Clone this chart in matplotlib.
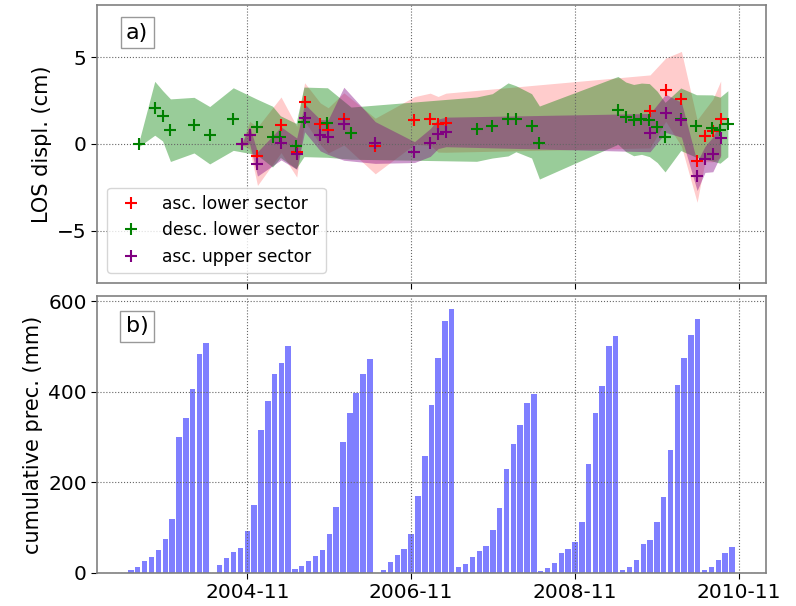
import matplotlib
matplotlib.use("Agg")
import matplotlib.pyplot as plt
import matplotlib.dates as mdates
import pandas as pd

# ascending track dates (shared by both ascending series)
asc_dates = [
    "2004-10-07", "2004-11-11", "2004-12-16", "2005-03-31", "2005-06-09",
    "2005-07-14", "2005-09-22", "2005-10-27", "2006-01-05", "2006-05-25",
    "2006-11-16", "2007-01-25", "2007-03-01", "2007-04-05", "2009-10-01",
    "2009-12-10", "2010-02-18", "2010-04-29", "2010-06-03", "2010-07-08",
    "2010-08-12",
]
asc_low = [0.0, 0.5, -0.71, 1.1, -0.45, 2.42, 1.16, 0.78, 1.44, -0.12, 1.35,
           1.42, 1.13, 1.22, 1.87, 3.12, 2.59, -0.99, 0.48, 0.77, 1.42]
asc_low_std = [0.05, 0.8, 1.68, 1.6, 1.46, 1.1, 1.2, 1.3, 1.5, 1.6, 1.37,
               1.5, 1.6, 1.7, 2.1, 1.82, 2.73, 2.37, 1.5, 1.8, 2.2]
asc_up = [-0.02, 0.5, -1.15, 0.03, -0.56, 1.5, 0.5, 0.39, 1.16, 0.08, -0.47,
          0.08, 0.58, 0.69, 0.65, 1.76, 1.39, -1.86, -0.89, -0.6, 0.35]
asc_up_std = [0.05, 0.5, 0.7, 0.95, 0.9, 0.8, 0.9, 1.0, 2.1, 1.2, 0.6,
              0.8, 0.85, 0.85, 1.1, 1.1, 1.0, 0.82, 0.75, 1.0, 1.0]

# descending track
desc_dates = [
    "2003-07-07", "2003-09-15", "2003-10-20", "2003-11-24", "2004-03-08",
    "2004-05-17", "2004-08-30", "2004-12-13", "2005-02-21", "2005-03-28",
    "2005-06-06", "2005-07-11", "2005-10-24", "2006-02-06", "2007-08-20",
    "2007-10-29", "2008-01-07", "2008-02-11", "2008-04-21", "2008-05-26",
    "2009-05-11", "2009-06-15", "2009-07-20", "2009-08-24", "2009-09-28",
    "2009-11-02", "2009-12-07", "2010-02-15", "2010-04-26", "2010-07-05",
    "2010-08-09", "2010-09-13",
]
desc_low = [0.0, 2.05, 1.62, 0.79, 1.08, 0.5, 1.43, 0.98, 0.42, 0.42, -0.12,
            1.27, 1.23, 0.62, 0.85, 1.04, 1.41, 1.45, 1.04, 0.08, 1.93, 1.56,
            1.37, 1.45, 1.37, 0.98, 0.39, 1.42, 1.03, 0.92, 0.79, 1.16]
desc_low_std = [0.15, 1.55, 1.45, 1.8, 1.6, 1.65, 1.8, 1.6, 1.75, 1.2, 1.3,
                2.0, 2.0, 1.5, 1.85, 1.85, 2.1, 1.9, 1.85, 2.1, 1.95, 2.0,
                2.05, 2.05, 2.1, 2.05, 2.0, 1.8, 1.8, 1.9, 1.9, 1.9]

# monthly cumulative precipitation (hydrological year Jun-May)
prec_months = pd.date_range("2003-06-01", "2010-10-01", freq="MS")
prec_mm = [
    7, 13, 26, 36, 51, 76, 119, 299, 343, 405, 484, 507,
    0, 17, 32, 46, 56, 93, 150, 315, 380, 440, 463, 501,
    9, 15, 26, 37, 51, 85, 145, 289, 352, 398, 440, 472,
    0, 7, 24, 39, 54, 87, 170, 259, 371, 474, 557, 582,
    13, 20, 36, 49, 59, 95, 143, 230, 284, 326, 374, 395,
    5, 12, 23, 43, 54, 68, 113, 241, 354, 413, 501, 522,
    7, 14, 28, 63, 73, 113, 167, 272, 414, 475, 525, 560,
    7, 13, 29, 43, 57,
]

tick_dates = pd.to_datetime(["2004-11-01", "2006-11-01", "2008-11-01", "2010-11-01"])

series = [
    ("asc. lower sector", asc_dates, asc_low, asc_low_std, "red", 0.2),
    ("desc. lower sector", desc_dates, desc_low, desc_low_std, "green", 0.4),
    ("asc. upper sector", asc_dates, asc_up, asc_up_std, "purple", 0.4),
]

fig = plt.figure(figsize=(7.96, 6.06), dpi=100)
ax1 = fig.add_axes([0.122, 0.533, 0.840, 0.459])
ax2 = fig.add_axes([0.122, 0.0545, 0.840, 0.457], sharex=ax1)

for label, d, v, s, c, a in series:
    d = pd.to_datetime(d)
    lo = [x - e for x, e in zip(v, s)]
    hi = [x + e for x, e in zip(v, s)]
    ax1.fill_between(d, lo, hi, color=c, alpha=a, linewidth=0)
for label, d, v, s, c, a in series:
    ax1.plot(pd.to_datetime(d), v, "+", color=c, ms=8, mew=1.5,
             linestyle="none", label=label)

ax1.set_ylim(-8, 8)
ax1.set_yticks([-5, 0, 5])
ax1.set_ylabel("LOS displ. (cm)", fontsize=15)
ax1.legend(loc="lower left", fontsize=12.3, borderaxespad=0.6)
ax1.text(0.06, 0.9, "a)", transform=ax1.transAxes, fontsize=16,
         ha="center", va="center",
         bbox=dict(boxstyle="square,pad=0.25", facecolor="white", edgecolor="0.6"))

ax2.bar(prec_months, prec_mm, width=24, color="blue", alpha=0.5)
ax2.set_yticks([0, 200, 400, 600])
ax2.set_ylabel("cumulative prec. (mm)", fontsize=15)
ax2.text(0.06, 0.89, "b)", transform=ax2.transAxes, fontsize=16,
         ha="center", va="center",
         bbox=dict(boxstyle="square,pad=0.25", facecolor="white", edgecolor="0.6"))

ax2.set_xlim(pd.Timestamp("2003-01-01"), pd.Timestamp("2011-03-01"))
ax2.set_xticks(tick_dates)
ax2.xaxis.set_major_formatter(mdates.DateFormatter("%Y-%m"))
plt.setp(ax1.get_xticklabels(), visible=False)

for ax in (ax1, ax2):
    ax.grid(True, linestyle=":", color="0.4", linewidth=0.8)
    ax.tick_params(labelsize=14.5, direction="out", length=4)
    for sp in ax.spines.values():
        sp.set_color("0.5")
        sp.set_linewidth(1.2)

fig.savefig("out.png", dpi=100)
